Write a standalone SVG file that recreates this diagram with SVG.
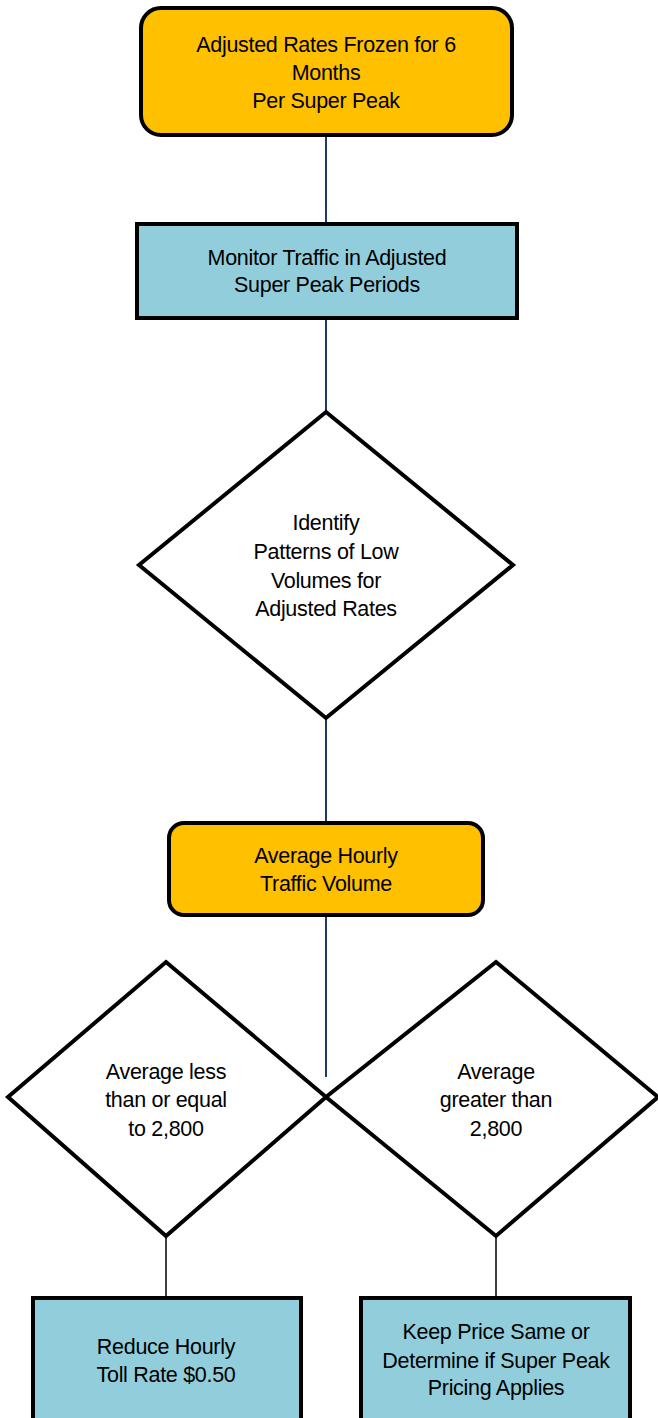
<svg xmlns="http://www.w3.org/2000/svg" width="658" height="1418" viewBox="0 0 658 1418">
  <style>
    .term { fill: #FFC000; stroke: #000; stroke-width: 4; }
    .proc { fill: #92CDDC; stroke: #000; stroke-width: 4; }
    .dec { fill: #FFFFFF; stroke: #000; stroke-width: 4; stroke-linejoin: miter; }
    .lbl { font-family: "Liberation Sans", Arial, sans-serif; font-size: 21.5px; fill: #000; text-anchor: middle; letter-spacing: -0.3px; }
    .flow { stroke: #1F3864; stroke-width: 2; fill: none; }
    .flowb { stroke: #000; stroke-width: 1.5; fill: none; }
  </style>
  <rect width="658" height="1418" fill="#FFFFFF"/>

  <g id="connectors">
    <line class="flow" x1="326" y1="135" x2="326" y2="224"/>
    <line class="flow" x1="326" y1="318" x2="326" y2="412"/>
    <line class="flow" x1="326" y1="718" x2="326" y2="823"/>
    <line class="flow" x1="326" y1="915" x2="326" y2="1077" stroke="#2F5597"/>
    <line class="flowb" x1="166" y1="1236" x2="166" y2="1297"/>
    <line class="flowb" x1="496" y1="1236" x2="496" y2="1297"/>
  </g>

  <g id="rates-frozen">
    <rect class="term" x="141" y="8" width="371" height="127" rx="20"/>
    <text class="lbl" x="326" y="52">Adjusted Rates Frozen for 6</text>
    <text class="lbl" x="326" y="80">Months</text>
    <text class="lbl" x="326" y="108">Per Super Peak</text>
  </g>

  <g id="monitor-traffic">
    <rect class="proc" x="137" y="224" width="380" height="94"/>
    <text class="lbl" x="327" y="265">Monitor Traffic in Adjusted</text>
    <text class="lbl" x="327" y="292">Super Peak Periods</text>
  </g>

  <g id="identify-patterns">
    <polygon class="dec" points="326,412 513,565 326,718 139,565"/>
    <text class="lbl" x="326" y="530">Identify</text>
    <text class="lbl" x="326" y="559">Patterns of Low</text>
    <text class="lbl" x="326" y="588">Volumes for</text>
    <text class="lbl" x="326" y="616">Adjusted Rates</text>
  </g>

  <g id="hourly-volume">
    <rect class="term" x="169" y="823" width="314" height="92" rx="15"/>
    <text class="lbl" x="326" y="863">Average Hourly</text>
    <text class="lbl" x="326" y="891">Traffic Volume</text>
  </g>

  <g id="less-or-equal">
    <polygon class="dec" points="166,962 326,1097 166,1236 8,1097"/>
    <text class="lbl" x="166" y="1079">Average less</text>
    <text class="lbl" x="166" y="1107">than or equal</text>
    <text class="lbl" x="166" y="1136">to 2,800</text>
  </g>

  <g id="greater-than">
    <polygon class="dec" points="496,962 658,1097 496,1236 326,1097"/>
    <text class="lbl" x="496" y="1079">Average</text>
    <text class="lbl" x="496" y="1107">greater than</text>
    <text class="lbl" x="496" y="1136">2,800</text>
  </g>

  <g id="reduce-rate">
    <rect class="proc" x="33" y="1298" width="268" height="130"/>
    <text class="lbl" x="166" y="1354">Reduce Hourly</text>
    <text class="lbl" x="166" y="1382">Toll Rate $0.50</text>
  </g>

  <g id="keep-price">
    <rect class="proc" x="361" y="1298" width="269" height="130"/>
    <text class="lbl" x="496" y="1339">Keep Price Same or</text>
    <text class="lbl" x="496" y="1368">Determine if Super Peak</text>
    <text class="lbl" x="496" y="1395">Pricing Applies</text>
  </g>
</svg>
